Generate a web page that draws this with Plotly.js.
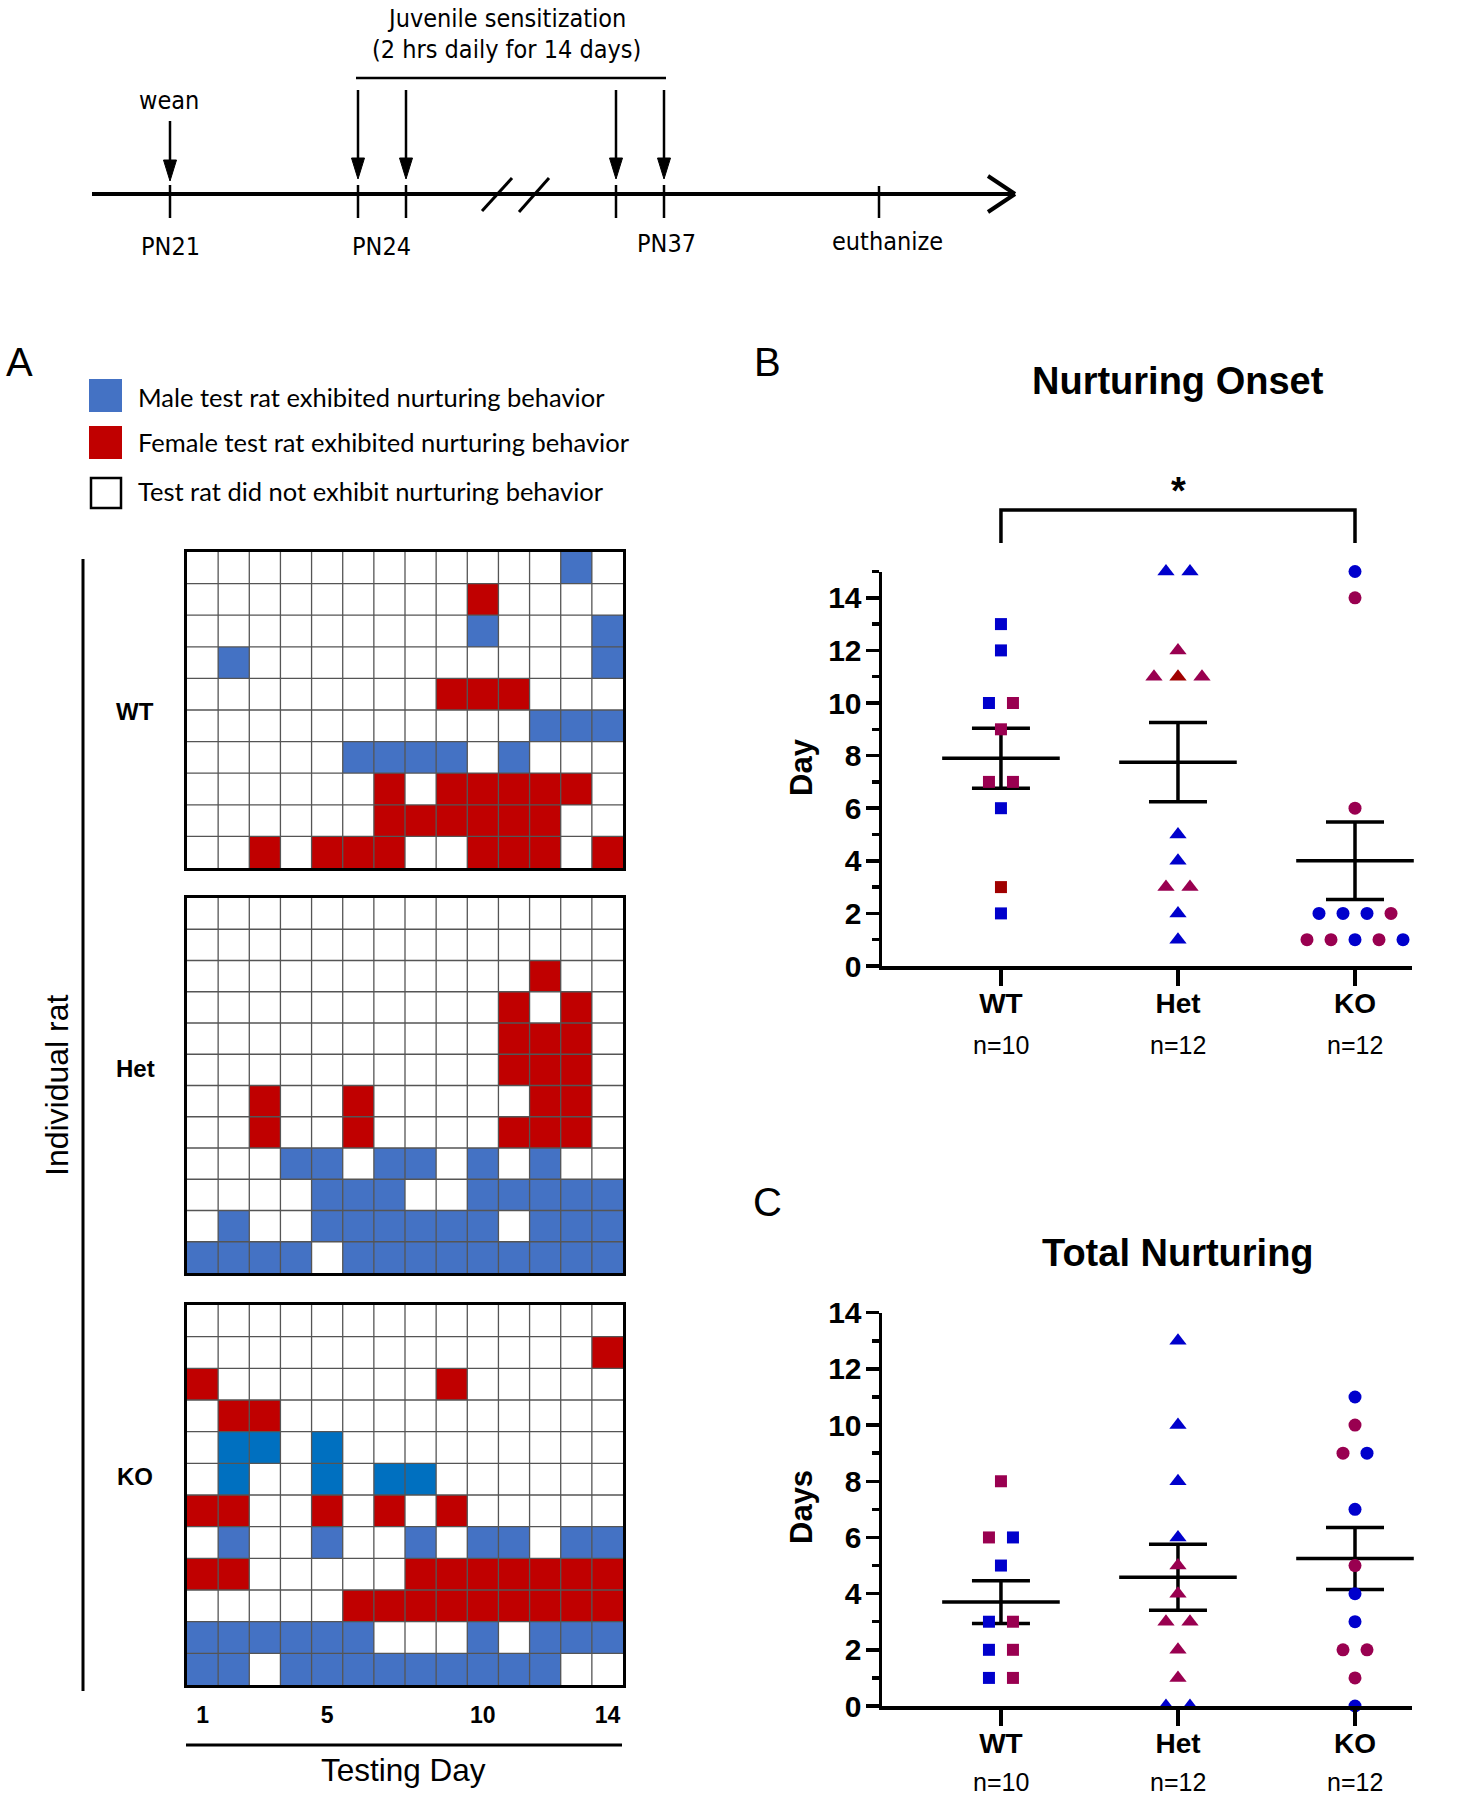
<!DOCTYPE html>
<html>
<head>
<meta charset="utf-8">
<script src="https://cdn.plot.ly/plotly-3.0.1.min.js"></script>
<style>html,body{margin:0;padding:0;background:#fff;}</style>
</head>
<body>
<div id="chart" style="width:1481px;height:1800px;"></div>
<script>
// ================= DATA =================
const days = [1, 2, 3, 4, 5, 6, 7, 8, 9, 10, 11, 12, 13, 14];
const dayTicks = [1, 5, 10, 14];
const genotypes = ['WT', 'Het', 'KO'];
const groupSizes = ['n=10', 'n=12', 'n=12'];
const legendLabels = [
  'Male test rat exhibited nurturing behavior',
  'Female test rat exhibited nurturing behavior',
  'Test rat did not exhibit nurturing behavior'
];
// heatmap codes: 0 = no nurturing, 1 = male, 2 = female, 3 = male (alternate shade)
const heatWT = [
  [0,0,0,0,0,0,0,0,0,0,0,0,1,0],
  [0,0,0,0,0,0,0,0,0,2,0,0,0,0],
  [0,0,0,0,0,0,0,0,0,1,0,0,0,1],
  [0,1,0,0,0,0,0,0,0,0,0,0,0,1],
  [0,0,0,0,0,0,0,0,2,2,2,0,0,0],
  [0,0,0,0,0,0,0,0,0,0,0,1,1,1],
  [0,0,0,0,0,1,1,1,1,0,1,0,0,0],
  [0,0,0,0,0,0,2,0,2,2,2,2,2,0],
  [0,0,0,0,0,0,2,2,2,2,2,2,0,0],
  [0,0,2,0,2,2,2,0,0,2,2,2,0,2]
];
const heatHet = [
  [0,0,0,0,0,0,0,0,0,0,0,0,0,0],
  [0,0,0,0,0,0,0,0,0,0,0,0,0,0],
  [0,0,0,0,0,0,0,0,0,0,0,2,0,0],
  [0,0,0,0,0,0,0,0,0,0,2,0,2,0],
  [0,0,0,0,0,0,0,0,0,0,2,2,2,0],
  [0,0,0,0,0,0,0,0,0,0,2,2,2,0],
  [0,0,2,0,0,2,0,0,0,0,0,2,2,0],
  [0,0,2,0,0,2,0,0,0,0,2,2,2,0],
  [0,0,0,1,1,0,1,1,0,1,0,1,0,0],
  [0,0,0,0,1,1,1,0,0,1,1,1,1,1],
  [0,1,0,0,1,1,1,1,1,1,0,1,1,1],
  [1,1,1,1,0,1,1,1,1,1,1,1,1,1]
];
const heatKO = [
  [0,0,0,0,0,0,0,0,0,0,0,0,0,0],
  [0,0,0,0,0,0,0,0,0,0,0,0,0,2],
  [2,0,0,0,0,0,0,0,2,0,0,0,0,0],
  [0,2,2,0,0,0,0,0,0,0,0,0,0,0],
  [0,3,3,0,3,0,0,0,0,0,0,0,0,0],
  [0,3,0,0,3,0,3,3,0,0,0,0,0,0],
  [2,2,0,0,2,0,2,0,2,0,0,0,0,0],
  [0,1,0,0,1,0,0,1,0,1,1,0,1,1],
  [2,2,0,0,0,0,0,2,2,2,2,2,2,2],
  [0,0,0,0,0,2,2,2,2,2,2,2,2,2],
  [1,1,1,1,1,1,0,0,0,1,0,1,1,1],
  [1,1,0,1,1,1,1,1,1,1,1,1,0,0]
];
// Panel B: nurturing onset (day); sex codes M = male, F = female, R = female (dark red)
const onsetWT = [13, 12, 10, 10, 9, 7, 7, 6, 3, 2];
const onsetWTSex = ['M','M','M','F','F','F','F','M','R','M'];
const onsetHet = [15, 15, 12, 11, 11, 11, 5, 4, 3, 3, 2, 1];
const onsetHetSex = ['M','M','F','F','R','F','M','M','F','F','M','M'];
const onsetKO = [15, 14, 6, 2, 2, 2, 2, 1, 1, 1, 1, 1];
const onsetKOSex = ['M','F','F','M','M','M','F','F','F','M','F','M'];
// Panel C: total nurturing (days)
const totalWT = [8, 6, 6, 5, 3, 3, 2, 2, 1, 1];
const totalWTSex = ['F','F','M','M','M','F','M','F','M','F'];
const totalHet = [13, 10, 8, 6, 5, 4, 3, 3, 2, 1, 0, 0];
const totalHetSex = ['M','M','M','M','F','F','F','F','F','F','M','M'];
const totalKO = [11, 10, 9, 9, 7, 5, 4, 3, 2, 2, 1, 0];
const totalKOSex = ['M','F','F','M','M','F','M','M','F','F','F','M'];

// ================= HELPERS =================
const W = 1481, H = 1800;
const px = x => x / W;
const py = y => 1 - y / H;
const FONT = 'Liberation Sans, Arial, Helvetica, sans-serif';
const NARROW = 'Liberation Sans Narrow, Arial Narrow, DejaVu Sans Condensed, Liberation Sans, sans-serif';
const CAL = 'Lato, Open Sans, sans-serif';
const sexColors = {M: '#0000CC', F: '#990050', R: '#A00000'};
const heatColors = ['#FFFFFF', '#4472C4', '#C00000', '#0070C0'];
const symbols = ['square', 'triangle-up', 'circle'];
const symSizes = [12, 15, 13];
const XR = [-0.672, 2.322];
const XDOM = [px(882), px(1412)];
const JIT = 0.1356;

function mean(a) { return a.reduce((s, v) => s + v, 0) / a.length; }
function sem(a) {
  const m = mean(a);
  const v = a.reduce((s, x) => s + (x - m) * (x - m), 0) / (a.length - 1);
  return Math.sqrt(v) / Math.sqrt(a.length);
}
function jitter(vals) {
  const counts = {}, seen = {};
  vals.forEach(v => counts[v] = (counts[v] || 0) + 1);
  return vals.map(v => {
    seen[v] = (seen[v] === undefined) ? 0 : seen[v] + 1;
    return (seen[v] - (counts[v] - 1) / 2) * JIT;
  });
}
function catToPaper(c) { return XDOM[0] + (c - XR[0]) / (XR[1] - XR[0]) * (XDOM[1] - XDOM[0]); }

const traces = [];
const shapes = [];
const annotations = [];

// ================= HEATMAPS =================
const heatSets = [
  {z: heatWT, xa: 'x3', ya: 'y3'},
  {z: heatHet, xa: 'x4', ya: 'y4'},
  {z: heatKO, xa: 'x5', ya: 'y5'}
];
const cs = [[0, heatColors[0]], [1/3, heatColors[1]], [2/3, heatColors[2]], [1, heatColors[3]]];
heatSets.forEach(hs => {
  const rows = hs.z.map((_, i) => i);
  traces.push({
    type: 'heatmap', z: hs.z, x: days, y: rows,
    xaxis: hs.xa, yaxis: hs.ya, colorscale: cs, zmin: 0, zmax: 3,
    showscale: false, hoverinfo: 'skip'
  });
  for (let k = 0; k < days.length - 1; k++) {
    shapes.push({type: 'line', xref: hs.xa, yref: hs.ya, layer: 'above',
      x0: days[k] + 0.5, x1: days[k] + 0.5, y0: -0.5, y1: rows.length - 0.5,
      line: {color: '#555555', width: 1.3}});
  }
  for (let r = 0; r < rows.length - 1; r++) {
    shapes.push({type: 'line', xref: hs.xa, yref: hs.ya, layer: 'above',
      x0: days[0] - 0.5, x1: days[days.length - 1] + 0.5, y0: r + 0.5, y1: r + 0.5,
      line: {color: '#555555', width: 1.3}});
  }
});

// ================= SCATTER PANELS =================
function addPanel(groups, sexes, xa, ya) {
  const means = groups.map(mean);
  const sems = groups.map(sem);
  traces.push({
    type: 'scatter', mode: 'markers', xaxis: xa, yaxis: ya,
    x: genotypes.map((_, i) => i), y: means,
    error_y: {type: 'data', array: sems, visible: true, color: '#000', thickness: 3.5, width: 29},
    marker: {symbol: 'line-ew', size: 84, color: '#000', line: {color: '#000', width: 3.5}},
    cliponaxis: false, hoverinfo: 'skip', showlegend: false
  });
  groups.forEach((vals, gi) => {
    const off = jitter(vals);
    traces.push({
      type: 'scatter', mode: 'markers', xaxis: xa, yaxis: ya,
      x: off.map(o => gi + o), y: vals,
      marker: {symbol: symbols[gi], size: symSizes[gi], color: sexes[gi].map(s => sexColors[s]), line: {width: 0}},
      cliponaxis: false, hoverinfo: 'skip', showlegend: false
    });
  });
}
addPanel([onsetWT, onsetHet, onsetKO], [onsetWTSex, onsetHetSex, onsetKOSex], 'x', 'y');
addPanel([totalWT, totalHet, totalKO], [totalWTSex, totalHetSex, totalKOSex], 'x2', 'y2');

// ================= AXES =================
const boldTick = {family: FONT, size: 28, color: '#000', weight: 'bold'};
const boldTickY = {family: FONT, size: 30, color: '#000', weight: 'bold'};
function scatterX(domainAnchor) {
  return {
    domain: XDOM, range: XR, anchor: domainAnchor, showline: true, linewidth: 3.5, linecolor: '#000',
    ticks: 'outside', ticklen: 16, tickwidth: 3.5, tickcolor: '#000',
    tickvals: genotypes.map((_, i) => i), ticktext: genotypes, tickfont: boldTick,
    ticklabelstandoff: -6, showgrid: false, zeroline: false, fixedrange: true
  };
}
function scatterY(dom, rng, anchor) {
  return {
    domain: dom, range: rng, anchor: anchor, showline: true, linewidth: 3.5, linecolor: '#000',
    ticks: 'outside', ticklen: 13, tickwidth: 3.5, tickcolor: '#000', dtick: 2, tick0: 0,
    minor: {ticks: 'outside', ticklen: 7, tickwidth: 3.5, tickcolor: '#000', dtick: 1, tick0: 0, showgrid: false},
    tickfont: boldTickY, ticklabelstandoff: -2, showgrid: false, zeroline: false, fixedrange: true
  };
}
function heatX(anchor, withLabels) {
  const a = {
    domain: [px(187), px(623)], range: [days[0] - 0.5, days[days.length - 1] + 0.5], anchor: anchor,
    showline: true, mirror: true, linewidth: 3, linecolor: '#000', showgrid: false, zeroline: false,
    fixedrange: true, showticklabels: false, ticks: ''
  };
  if (withLabels) {
    a.showticklabels = true; a.tickvals = dayTicks; a.ticktext = dayTicks.map(String);
    a.ticks = 'outside'; a.ticklen = 7; a.tickcolor = 'rgba(0,0,0,0)';
    a.tickfont = {family: FONT, size: 23, color: '#000', weight: 'bold'};
  }
  return a;
}
function heatY(dom, n, anchor) {
  return {
    domain: dom, range: [n - 0.5, -0.5], anchor: anchor, showline: true, mirror: true,
    linewidth: 3, linecolor: '#000', showgrid: false, zeroline: false, showticklabels: false,
    ticks: '', fixedrange: true
  };
}

// ================= ANNOTATIONS =================
function txt(x, y, text, size, opts) {
  annotations.push(Object.assign({
    xref: 'paper', yref: 'paper', x: px(x), y: py(y), text: text, showarrow: false,
    xanchor: 'center', yanchor: 'middle', font: {family: FONT, size: size, color: '#000'}
  }, opts || {}));
}
// panel letters
txt(19, 362, 'A', 40);
txt(767, 362, 'B', 40);
txt(767, 1202, 'C', 40);
// titles
txt(1178, 381, 'Nurturing Onset', 38, {font: {family: FONT, size: 38, color: '#000', weight: 'bold'}});
txt(1178, 1253, 'Total Nurturing', 38, {font: {family: FONT, size: 38, color: '#000', weight: 'bold'}});
// y titles
txt(801, 767, 'Day', 31, {textangle: -90, font: {family: FONT, size: 31, color: '#000', weight: 'bold'}});
txt(801, 1507, 'Days', 31, {textangle: -90, font: {family: FONT, size: 31, color: '#000', weight: 'bold'}});
// significance star
txt(1178, 491, '*', 38, {font: {family: FONT, size: 38, color: '#000', weight: 'bold'}});
// n labels
groupSizes.forEach((t, i) => {
  annotations.push({xref: 'x', yref: 'paper', x: i, y: py(1045), text: t, showarrow: false,
    xanchor: 'center', yanchor: 'middle', font: {family: FONT, size: 25, color: '#000'}});
  annotations.push({xref: 'x2', yref: 'paper', x: i, y: py(1782), text: t, showarrow: false,
    xanchor: 'center', yanchor: 'middle', font: {family: FONT, size: 25, color: '#000'}});
});
// legend for panel A
const legY = [397, 442, 491];
legendLabels.forEach((t, i) => {
  txt(136, legY[i], t, 25.5, {xanchor: 'left', font: {family: CAL, size: 25.5, color: '#000'}});
});
shapes.push({type: 'rect', xref: 'paper', yref: 'paper', x0: px(89), x1: px(122), y0: py(379), y1: py(412),
  fillcolor: heatColors[1], line: {width: 0}});
shapes.push({type: 'rect', xref: 'paper', yref: 'paper', x0: px(89), x1: px(122), y0: py(426), y1: py(459),
  fillcolor: heatColors[2], line: {width: 0}});
shapes.push({type: 'rect', xref: 'paper', yref: 'paper', x0: px(91), x1: px(121), y0: py(478), y1: py(508),
  fillcolor: heatColors[0], line: {color: '#000', width: 2.5}});
// row group labels
const rowLabelY = [711, 1068, 1476];
genotypes.forEach((g, i) => {
  txt(135, rowLabelY[i], g, 24, {font: {family: FONT, size: 24, color: '#000', weight: 'bold'}});
});
txt(57, 1085, 'Individual rat', 32, {textangle: -90});
shapes.push({type: 'line', xref: 'paper', yref: 'paper', x0: px(83), x1: px(83), y0: py(559), y1: py(1691),
  line: {color: '#000', width: 3}});
txt(403, 1770, 'Testing Day', 31.5);
shapes.push({type: 'line', xref: 'paper', yref: 'paper', x0: px(186), x1: px(622), y0: py(1745), y1: py(1745),
  line: {color: '#000', width: 3}});
// significance bracket
shapes.push({type: 'path', xref: 'paper', yref: 'paper',
  path: 'M' + catToPaper(0) + ',' + py(543) + ' L' + catToPaper(0) + ',' + py(510) +
        ' L' + catToPaper(2) + ',' + py(510) + ' L' + catToPaper(2) + ',' + py(543),
  line: {color: '#000', width: 3.5}});

// ================= TIMELINE (schematic) =================
const tlY = 194;
function pline(x0, y0, x1, y1, w) {
  shapes.push({type: 'line', xref: 'paper', yref: 'paper', x0: px(x0), y0: py(y0), x1: px(x1), y1: py(y1),
    line: {color: '#000', width: w}});
}
function downArrow(x, yTop, yTip) {
  pline(x, yTop, x, yTip - 16, 2.5);
  shapes.push({type: 'path', xref: 'paper', yref: 'paper',
    path: 'M' + px(x - 6.5) + ',' + py(yTip - 21) + ' L' + px(x + 6.5) + ',' + py(yTip - 21) +
          ' L' + px(x) + ',' + py(yTip) + ' Z',
    fillcolor: '#000', line: {color: '#000', width: 1}});
}
pline(92, tlY, 1013, tlY, 4);
pline(988, 176, 1015, tlY, 4);
pline(988, 212, 1015, tlY, 4);
[170, 358, 406, 616, 664].forEach(x => pline(x, 185, x, 218, 2.5));
pline(879, 186, 879, 218, 2.5);
downArrow(170, 121, 181);
[358, 406, 616, 664].forEach(x => downArrow(x, 90, 179));
pline(356, 78, 666, 78, 2.5);
pline(482, 211, 512, 178, 3);
pline(519, 212, 549, 178, 3);
const tlFont = {family: NARROW, size: 25, color: '#000'};
txt(169, 100, 'wean', 25, {font: tlFont});
txt(506, 18, 'Juvenile sensitization', 25, {font: tlFont});
txt(506, 49, '(2 hrs daily for 14 days)', 25, {font: tlFont});
txt(170, 246, 'PN21', 25, {font: tlFont});
txt(382, 246, 'PN24', 25, {font: tlFont});
txt(666, 244, 'PN37', 25, {font: tlFont});
txt(887, 241, 'euthanize', 25, {font: tlFont});

// ================= LAYOUT =================
const layout = {
  width: W, height: H, margin: {l: 0, r: 0, t: 0, b: 0},
  paper_bgcolor: '#fff', plot_bgcolor: '#fff', showlegend: false,
  font: {family: FONT, color: '#000'},
  xaxis: scatterX('y'),
  yaxis: scatterY([py(966), py(571.5)], [0, 15], 'x'),
  xaxis2: scatterX('y2'),
  yaxis2: scatterY([py(1706), py(1312.7)], [0, 14], 'x2'),
  xaxis3: heatX('y3', false),
  yaxis3: heatY([py(868), py(552)], heatWT.length, 'x3'),
  xaxis4: heatX('y4', false),
  yaxis4: heatY([py(1273), py(898)], heatHet.length, 'x4'),
  xaxis5: heatX('y5', true),
  yaxis5: heatY([py(1685), py(1305)], heatKO.length, 'x5'),
  shapes: shapes,
  annotations: annotations
};
Plotly.newPlot('chart', traces, layout, {staticPlot: true, displayModeBar: false});
</script>
</body>
</html>
